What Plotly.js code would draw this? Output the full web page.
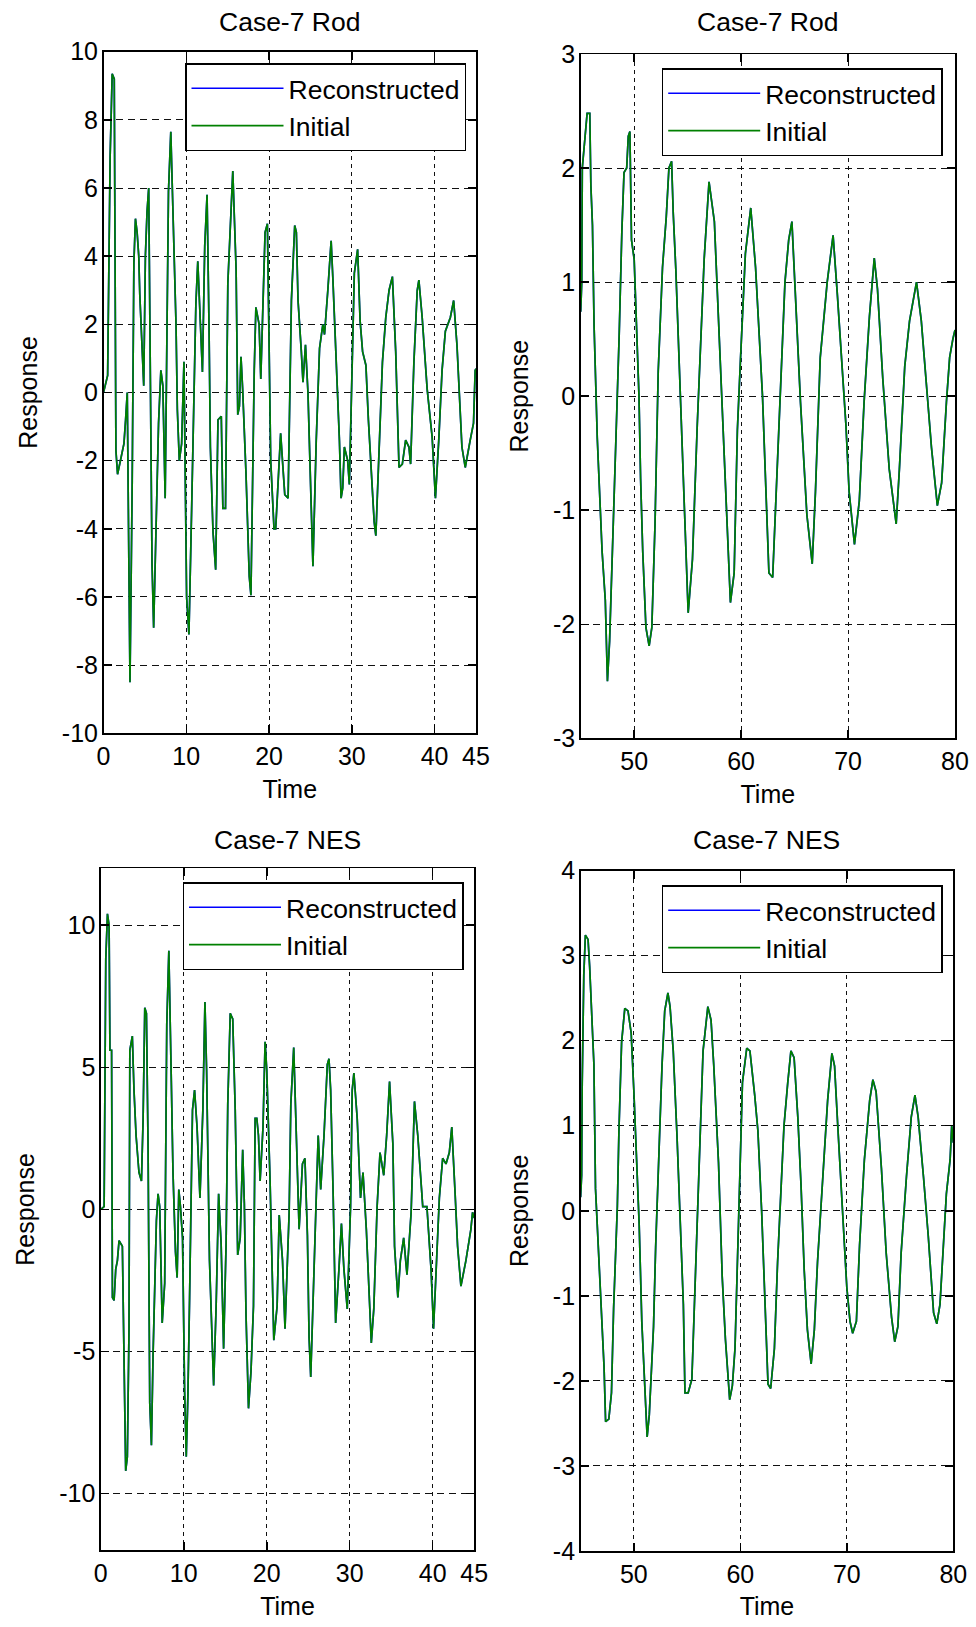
<!DOCTYPE html>
<html>
<head>
<meta charset="utf-8">
<script src="https://cdn.plot.ly/plotly-3.0.1.min.js"></script>
<style>html,body{margin:0;padding:0;background:#fff;}#chart{width:976px;height:1627px;}</style>
</head>
<body>
<div id="chart"></div>
<script>
// ---------------- data ----------------
const seriesNames = ['Reconstructed', 'Initial'];
const panelTitles = ['Case-7 Rod', 'Case-7 Rod', 'Case-7 NES', 'Case-7 NES'];

const rodTimeA = [0,0.5,0.8,1.05,1.3,1.5,1.7,2.07,2.47,2.67,2.87,3.2,3.47,3.67,3.86,4.06,4.26,4.38,4.66,4.86,5.06,5.26,5.46,5.66,5.86,6.06,6.45,6.65,6.93,7.17,7.45,7.85,8.13,8.45,8.76,8.92,9.16,9.44,9.72,10.04,10.32,10.64,10.92,11.16,11.39,11.63,11.95,12.23,12.51,12.75,12.91,13.23,13.55,13.83,14.23,14.42,14.74,15.02,15.42,15.62,16.02,16.22,16.42,16.61,16.81,17.21,17.61,17.81,18.21,18.41,18.8,19.0,19.52,19.8,20.2,20.6,20.8,21.4,21.9,22.3,22.7,23.1,23.3,23.5,23.9,24.1,24.4,24.7,25.1,25.3,25.7,26.1,26.5,26.7,27.1,27.5,27.7,28.1,28.5,28.7,28.9,29.1,29.5,29.7,30.0,30.3,30.7,31.0,31.3,31.7,32.0,32.3,32.7,32.9,33.3,33.7,34.1,34.5,34.9,35.3,35.7,36.1,36.5,36.9,37.1,37.5,37.9,38.1,38.5,39.1,39.7,40.1,40.5,40.9,41.3,41.9,42.3,42.7,43.3,43.7,44.3,44.7,44.9,45.0];
const rodRespA = [0,0.5,6.9,9.35,9.2,-1.7,-2.4,-2.0,-1.5,-0.8,0.0,-8.5,-2.6,3.8,5.1,4.7,4.0,2.9,1.0,0.2,4.0,5.3,6.0,0.65,-5.0,-6.9,-3.1,-0.9,0.65,0.2,-3.1,5.9,7.65,4.9,2.0,-0.5,-2.0,-1.5,0.9,-6.0,-7.1,-3.5,0.0,2.6,3.85,2.2,0.6,4.3,5.8,1.9,-1.6,-4.1,-5.2,-0.8,-0.7,-3.4,-3.4,3.2,5.75,6.5,3.6,-0.65,-0.4,1.05,0.1,-2.35,-5.4,-5.95,0.65,2.5,2.0,0.4,4.7,4.95,-2.0,-4.0,-4.0,-1.2,-3.0,-3.1,2.7,4.9,4.7,2.7,1.2,0.3,1.4,0.0,-3.4,-5.1,-1.4,1.3,2.0,1.7,3.0,4.45,3.4,1.2,-1.4,-3.1,-2.8,-1.6,-2.0,-2.7,0.1,3.5,4.2,2.1,1.2,0.8,-0.8,-2.2,-3.8,-4.2,-1.4,0.9,2.2,3.0,3.4,1.2,-2.2,-2.1,-1.4,-1.6,-2.1,0.9,3.0,3.3,2.2,0.1,-1.3,-3.1,-1.4,0.65,1.8,2.2,2.7,1.4,-1.6,-2.2,-1.4,-0.9,0.65,0.7];

const rodTimeB = [45.0,45.1,45.15,45.3,45.6,45.85,45.95,46.1,46.25,46.55,46.9,47.0,47.3,47.5,47.7,47.9,48.3,48.6,48.85,49.05,49.3,49.45,49.6,49.75,50.0,50.3,50.45,50.6,50.8,51.1,51.4,51.65,51.95,52.25,52.65,53.0,53.25,53.5,53.65,53.9,54.65,55.05,55.45,55.9,56.55,57.0,57.5,57.95,58.55,59.0,59.35,59.65,59.95,60.4,60.9,61.35,62.0,62.6,62.95,63.65,64.1,64.45,64.75,65.05,65.55,66.15,66.65,66.95,67.4,68.05,68.6,69.0,69.45,69.8,70.1,70.6,71.05,71.5,72.0,72.45,72.75,73.25,73.85,74.5,74.8,75.3,75.75,76.4,76.85,77.3,77.8,78.35,78.75,79.2,79.5,79.8,80.0];
const rodRespB = [0.74,1.0,2.0,2.14,2.48,2.48,1.85,1.5,0.62,-0.37,-1.04,-1.36,-1.79,-2.5,-2.15,-1.55,-0.45,0.54,1.45,1.96,2.0,2.28,2.32,1.37,1.2,0.38,0.0,-0.72,-1.36,-2.03,-2.19,-2.03,-1.12,0.22,1.13,1.57,2.0,2.06,1.61,1.1,-0.84,-1.9,-1.43,-0.25,1.21,1.88,1.53,0.54,-0.84,-1.81,-1.55,-0.3,0.34,1.25,1.65,1.13,0.0,-1.55,-1.59,-0.05,1.0,1.37,1.53,0.94,-0.05,-1.04,-1.47,-0.84,0.34,1.0,1.41,0.89,0.26,-0.25,-0.84,-1.3,-0.92,-0.05,0.7,1.21,0.94,0.15,-0.64,-1.12,-0.64,0.26,0.66,1.0,0.66,0.15,-0.45,-0.96,-0.76,-0.05,0.34,0.5,0.58];

const nesTimeA = [0,0.4,0.6,0.8,1.0,1.1,1.3,1.4,1.6,1.8,2.0,2.2,2.6,2.8,3.0,3.2,3.4,3.5,3.8,4.0,4.25,4.6,4.9,5.1,5.3,5.5,5.7,5.9,6.1,6.3,6.7,6.9,7.1,7.4,7.7,7.95,8.2,8.5,8.7,9.0,9.2,9.4,9.6,9.85,10.1,10.3,10.5,10.7,11.05,11.3,11.6,11.95,12.3,12.55,12.75,13.1,13.5,13.6,13.9,14.2,14.5,14.8,15.1,15.3,15.6,15.9,16.2,16.5,16.8,17.1,17.3,17.5,17.8,18.1,18.4,18.6,18.8,19.0,19.2,19.55,19.8,20.0,20.4,20.65,20.85,21.25,21.5,21.9,22.2,22.7,22.9,23.25,23.5,23.9,24.3,24.6,24.9,25.1,25.3,25.6,25.9,26.2,26.5,26.9,27.3,27.5,27.7,28.0,28.3,28.7,29.0,29.3,29.7,30.1,30.3,30.5,30.9,31.3,31.6,32.0,32.3,32.6,32.9,33.3,33.65,34.1,34.45,34.8,35.2,35.4,35.8,36.1,36.5,36.9,37.4,37.8,38.2,38.8,39.3,39.8,40.1,40.4,40.8,41.2,41.6,42.0,42.3,42.7,43.0,43.4,44.0,44.6,44.8,45.0];
const nesRespA = [0,0.1,8.8,10.4,10.0,5.6,5.6,-3.1,-3.2,-2.1,-1.8,-1.1,-1.3,-6.4,-9.2,-8.7,-4.2,5.6,6.1,4.2,2.6,1.3,1.0,3.2,7.1,6.9,2.1,-6.8,-8.3,-5.1,-0.4,0.55,0.1,-4.0,-2.6,6.5,9.1,4.5,1.3,-1.5,-2.4,0.7,0.1,-1.0,-6.4,-8.7,-6.5,-3.1,3.5,4.2,2.9,0.4,3.5,7.3,4.9,-1.8,-5.6,-6.2,-3.4,0.55,-1.2,-4.9,-1.2,3.7,6.9,6.7,3.5,-1.6,-1.0,2.1,0.2,-3.7,-7.0,-5.7,-3.4,3.2,3.2,2.6,1.0,2.9,5.9,4.9,1.0,-2.4,-4.6,-3.4,-0.2,-1.8,-4.2,-0.1,3.7,5.7,2.9,-0.7,1.6,1.8,-0.9,-4.5,-5.9,-3.4,-0.2,2.6,0.7,2.6,5.1,5.3,4.2,0.55,-4.0,-2.1,-0.5,-2.1,-3.5,0.1,4.2,4.8,3.2,0.4,1.3,-0.7,-2.6,-4.7,-3.5,0.1,2.0,1.2,2.6,4.5,2.3,-1.3,-3.1,-1.8,-1.0,-2.3,-0.1,3.8,2.6,0.1,0.1,-2.1,-4.2,-2.1,0.4,1.8,1.6,2.0,2.9,0.55,-1.3,-2.7,-1.8,-0.7,-0.1,-0.3];

const nesTimeB = [45.0,45.1,45.15,45.3,45.45,45.7,45.85,46.0,46.25,46.4,46.7,47.0,47.2,47.35,47.65,47.9,48.1,48.45,48.6,48.85,49.15,49.45,49.75,50.0,50.3,50.5,50.75,51.0,51.25,51.45,51.85,52.05,52.3,52.65,52.9,53.2,53.4,53.7,54.05,54.35,54.65,54.8,55.1,55.45,55.7,56.05,56.5,56.95,57.25,57.5,57.95,58.3,58.6,59.0,59.25,59.5,59.75,59.95,60.2,60.6,60.9,61.35,61.65,62.0,62.3,62.6,62.85,63.2,63.5,63.8,64.1,64.45,64.75,65.05,65.4,65.7,66.0,66.3,66.65,66.95,67.25,67.75,68.2,68.6,68.85,69.15,69.45,69.8,70.0,70.3,70.55,70.9,71.2,71.65,72.15,72.45,72.75,73.25,73.7,74.2,74.5,74.8,75.1,75.6,76.05,76.4,76.7,77.2,77.65,78.15,78.45,78.75,79.05,79.35,79.7,79.85,80.0];
const nesRespB = [0.16,0.42,1.49,2.77,3.24,3.19,2.87,2.35,1.72,0.26,-0.52,-1.2,-1.83,-2.48,-2.45,-2.14,-1.15,0.05,0.94,1.98,2.38,2.35,2.09,1.41,0.57,-0.16,-1.31,-2.09,-2.66,-2.4,-1.36,-0.42,0.57,1.72,2.35,2.56,2.4,1.88,0.89,-0.16,-1.1,-2.14,-2.14,-1.98,-1.1,0.37,1.88,2.4,2.24,1.72,0.57,-0.78,-1.51,-2.22,-2.06,-1.62,-0.47,0.47,1.51,1.91,1.88,1.36,0.94,0.0,-1.1,-2.04,-2.09,-1.62,-0.6,0.3,1.0,1.5,1.88,1.8,1.1,0.3,-0.7,-1.4,-1.8,-1.4,-0.6,0.4,1.3,1.85,1.7,1.0,0.3,-0.4,-0.9,-1.3,-1.44,-1.3,-0.4,0.6,1.3,1.54,1.4,0.5,-0.5,-1.25,-1.54,-1.36,-0.5,0.4,1.1,1.36,1.1,0.4,-0.3,-1.2,-1.33,-1.1,-0.42,0.2,0.6,1.0,0.8];

// tick values / labels
const xTicksEarly = [0,10,20,30,40,45];
const xTicksLate = [50,60,70,80];
const yTicksRodA = [-10,-8,-6,-4,-2,0,2,4,6,8,10];
const yLabelsRodA = ['-10','-8','-6','-4','-2','0','2','4','6','8','10'];
const yTicksRodB = [-3,-2,-1,0,1,2,3];
const yLabelsRodB = ['-3','-2','-1','0','1','2','3'];
const yTicksNesA = [-10,-5,0,5,10];
const yLabelsNesA = ['-10','-5','0','5','10'];
const yTicksNesB = [-4,-3,-2,-1,0,1,2,3,4];
const yLabelsNesB = ['-4','-3','-2','-1','0','1','2','3','4'];

// ---------------- layout ----------------
const W = 976, H = 1627;
const FONT = 'Liberation Sans, Arial, sans-serif';
const FS = 25;      // tick labels / axis titles
const FS_BIG = 26.5; // panel titles / legend
const px = v => v / W;
const py = v => 1 - v / H;

// plot boxes in pixels: [left, right, top, bottom]
const boxes = [
  [103.5, 476, 51.7, 733.3],
  [580.7, 955, 54, 738.3],
  [100.8, 474.2, 868.4, 1550.4],
  [580.6, 953.3, 870.5, 1551]
];
const legendPos = [[185, 63], [661.7, 68], [182.5, 882], [661.7, 885]];

const panels = [
  {t: rodTimeA, v: rodRespA, xr: [0,45], xt: xTicksEarly, yr: [-10,10], yt: yTicksRodA, yl: yLabelsRodA},
  {t: rodTimeB, v: rodRespB, xr: [45,80], xt: xTicksLate, yr: [-3,3], yt: yTicksRodB, yl: yLabelsRodB},
  {t: nesTimeA, v: nesRespA, xr: [0,45], xt: xTicksEarly, yr: [-12,12], yt: yTicksNesA, yl: yLabelsNesA},
  {t: nesTimeB, v: nesRespB, xr: [45,80], xt: xTicksLate, yr: [-4,4], yt: yTicksNesB, yl: yLabelsNesB}
];

const traces = [];
const layout = {
  width: W, height: H,
  margin: {l: 0, r: 0, t: 0, b: 0},
  paper_bgcolor: '#fff', plot_bgcolor: '#fff',
  font: {family: FONT, size: FS, color: '#000'},
  showlegend: true,
  annotations: []
};

const axisCommon = {
  showline: true, linecolor: '#000', linewidth: 1.5, mirror: 'ticks',
  ticks: 'inside', ticklen: 8, tickwidth: 1.5, tickcolor: '#000',
  showgrid: true, gridcolor: '#111', gridwidth: 1,
  zeroline: false, tickfont: {family: FONT, size: FS, color: '#000'},
  fixedrange: true
};

panels.forEach((p, i) => {
  const n = i + 1;
  const xa = n === 1 ? 'x' : 'x' + n;
  const ya = n === 1 ? 'y' : 'y' + n;
  const lg = n === 1 ? 'legend' : 'legend' + n;
  const b = boxes[i];
  traces.push({x: p.t, y: p.v, xaxis: xa, yaxis: ya, type: 'scatter', mode: 'lines',
    name: seriesNames[0], legend: lg, line: {color: '#0000ff', width: 1.7}});
  traces.push({x: p.t, y: p.v, xaxis: xa, yaxis: ya, type: 'scatter', mode: 'lines',
    name: seriesNames[1], legend: lg, line: {color: '#008000', width: 1.7}});

  layout['xaxis' + (n === 1 ? '' : n)] = Object.assign({}, axisCommon, {
    domain: [px(b[0]), px(b[1])], anchor: ya, range: p.xr,
    tickmode: 'array', tickvals: p.xt, ticktext: p.xt.map(String),
    griddash: '4px,4px',
    title: {text: 'Time', font: {family: FONT, size: FS, color: '#000'}, standoff: 11}
  });
  layout['yaxis' + (n === 1 ? '' : n)] = Object.assign({}, axisCommon, {
    domain: [py(b[3]), py(b[2])], anchor: xa, range: p.yr,
    tickmode: 'array', tickvals: p.yt, ticktext: p.yl,
    griddash: '7px,5px', ticklabelstandoff: -1,
    title: {text: 'Response', font: {family: FONT, size: FS, color: '#000'}, standoff: 17}
  });
  layout[lg] = {
    x: px(legendPos[i][0]), y: py(legendPos[i][1]), xanchor: 'left', yanchor: 'top',
    xref: 'paper', yref: 'paper',
    bgcolor: '#fff', bordercolor: '#000', borderwidth: 1.5,
    font: {family: FONT, size: FS_BIG, color: '#000'}, itemwidth: 92, tracegroupgap: 0
  };
  layout.annotations.push({
    text: panelTitles[i], xref: 'paper', yref: 'paper',
    x: px((b[0] + b[1]) / 2), y: py(i < 2 ? 22 : 840), xanchor: 'center', yanchor: 'middle',
    showarrow: false, font: {family: FONT, size: FS_BIG, color: '#000'}
  });
});

Plotly.newPlot('chart', traces, layout, {staticPlot: true, displayModeBar: false});
</script>
</body>
</html>
